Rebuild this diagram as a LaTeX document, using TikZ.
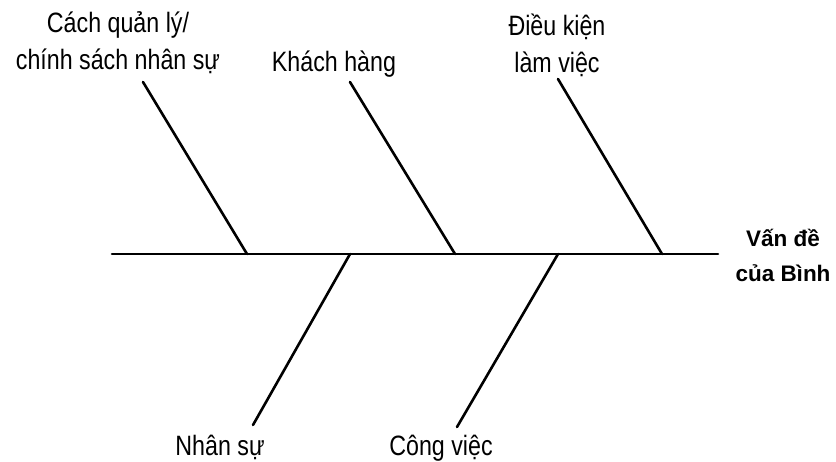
\documentclass[tikz,border=0pt]{standalone}
\usepackage{fontspec}
\setmainfont{Liberation Sans}
\newfontfamily\causefont{Liberation Sans}[FakeStretch=0.83]
\newfontfamily\effectfont{Liberation Sans}
\begin{document}
\begin{tikzpicture}[x=1pt,y=-1pt,
  bone/.style={line width=2.6pt, line cap=round},
  causelbl/.style={inner sep=0pt, align=center,
    font=\causefont\fontsize{28}{37}\selectfont},
  effectlbl/.style={inner sep=0pt, align=center,
    font=\effectfont\bfseries\fontsize{22.5}{35}\selectfont}]
\useasboundingbox (0,0) rectangle (836,462);

% spine
\coordinate (tail) at (112,254);
\coordinate (head) at (718,254);
\draw[bone] (tail) -- (head);

% junctions on the spine
\coordinate (j1) at (247,254);
\coordinate (j2) at (455,254);
\coordinate (j3) at (662,254);
\coordinate (j4) at (350,254);
\coordinate (j5) at (558,254);

% free ends of the bones
\coordinate (e1) at (143,82);
\coordinate (e2) at (350,82);
\coordinate (e3) at (558,79);
\coordinate (e4) at (253,425);
\coordinate (e5) at (457,427);

\draw[bone] (e1) -- (j1);
\draw[bone] (e2) -- (j2);
\draw[bone] (e3) -- (j3);
\draw[bone] (j4) -- (e4);
\draw[bone] (j5) -- (e5);

% cause labels (base anchor = baseline of the last line)
\node[causelbl, anchor=base] (c1) at (118,70) {Cách quản lý/\\chính sách nhân sự};
\node[causelbl, anchor=base] (c2) at (334,72) {Khách hàng};
\node[causelbl, anchor=base] (c3) at (557,73) {Điều kiện\\làm việc};
\node[causelbl, anchor=base] (c4) at (220,455) {Nhân sự};
\node[causelbl, anchor=base] (c5) at (441,455) {Công việc};

% effect label
\node[effectlbl, anchor=base] (effect) at (783,282) {Vấn đề\\của Bình};
\end{tikzpicture}
\end{document}
